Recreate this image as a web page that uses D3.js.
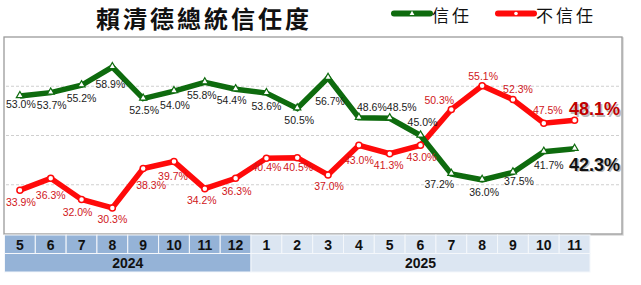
<!DOCTYPE html>
<html>
<head>
<meta charset="utf-8">
<script src="https://cdn.jsdelivr.net/npm/d3@7/dist/d3.min.js"></script>
<style>
body { margin:0; background:#fff; }
svg { display:block; }
</style>
</head>
<body>
<script>
// data
var months = ["5","6","7","8","9","10","11","12","1","2","3","4","5","6","7","8","9","10","11"];
var years = [{label:"2024", count:8}, {label:"2025", count:11}];
var trust = [53.0,53.7,55.2,58.9,52.5,54.0,55.8,54.4,53.6,50.5,56.7,48.6,48.5,45.0,37.2,36.0,37.5,41.7,42.3];
var distrust = [33.9,36.3,32.0,30.3,38.3,39.7,34.2,36.3,40.4,40.5,37.0,43.0,41.3,43.0,50.3,55.1,52.3,47.5,48.1];
var gridValues = [35,45,55];

// label placement (dx,dy from point), picked by eye
var trustOffsets = [[1,8],[1,12],[0,13],[-2,17],[1,11],[1,14],[-3,13],[-4,11],[0,13],[2,12],
    [2,23],[13,-11],[12,-11],[2,-14],[-12,10],[2,12],[6,9],[5,13],[20,16]];
var distrustOffsets = [[1,12],[0,17],[-4,12],[0,11],[8,17],[-1,14],[-3,11],[1,13],[0,9],[1,9],
    [1,11],[0,15],[-1,11],[1,12],[-12,-9],[1,-10],[5,-11],[4,-13],[20,-11]];

var totalWidth = 641, totalHeight = 285;
var frame = {left:4, top:37, right:622, bottom:234};

var svg = d3.select("body").append("svg")
    .attr("width", totalWidth)
    .attr("height", totalHeight);

var xScale = d3.scaleBand().domain(d3.range(months.length)).range([4.5, 590]).padding(0);
var yScale = d3.scaleLinear().domain([25,65]).range([frame.bottom, frame.top]);
function cx(i){ return xScale(i) + xScale.bandwidth()/2; }

// title
svg.append("text")
    .attr("x", 204).attr("y", 17)
    .attr("text-anchor","middle")
    .attr("dominant-baseline","central")
    .style("font-family","'Noto Sans CJK TC'")
    .style("font-weight","bold")
    .style("font-size","24px")
    .style("letter-spacing","3px")
    .attr("fill","#111")
    .text("賴清德總統信任度");

var green = "#0e6b0e", red = "#ff0a0a";

// legend
function legendItem(x, color, marker, label){
    var g = svg.append("g");
    g.append("line").attr("x1",x).attr("x2",x+36).attr("y1",13.5).attr("y2",13.5)
        .attr("stroke",color).attr("stroke-width",6).attr("stroke-linecap","round");
    if (marker == "tri") {
        g.append("path").attr("d", d3.symbol(d3.symbolTriangle, 10)())
            .attr("transform","translate("+(x+18)+",13.5)").attr("fill","#fff");
    } else {
        g.append("circle").attr("cx",x+18).attr("cy",13.5).attr("r",1.8).attr("fill","#fff");
    }
    g.append("text").attr("x",x+38).attr("y",14)
        .attr("dominant-baseline","central")
        .style("font-family","'Noto Sans CJK TC'")
        .style("font-size","17px")
        .style("letter-spacing","3px")
        .attr("fill","#111").text(label);
}
legendItem(394, green, "tri", "信任");
legendItem(498, red, "dot", "不信任");

// frame
svg.append("rect")
    .attr("x", frame.left+1).attr("y", frame.top+1)
    .attr("width", frame.right-frame.left).attr("height", frame.bottom-frame.top)
    .attr("fill","none").attr("stroke","#d8d8d8").attr("stroke-width",1.5);
svg.append("rect")
    .attr("x", frame.left).attr("y", frame.top)
    .attr("width", frame.right-frame.left).attr("height", frame.bottom-frame.top)
    .attr("fill","#fff").attr("stroke","#9a9a9a").attr("stroke-width",1.3);

// grid
svg.selectAll(".grid").data(gridValues).enter().append("line")
    .attr("x1", frame.left+2).attr("x2", frame.right-2)
    .attr("y1", function(d){return yScale(d);}).attr("y2", function(d){return yScale(d);})
    .attr("stroke","#cfcfcf").attr("stroke-width",1).attr("stroke-dasharray","3,2");

var line = d3.line().x(function(d,i){return cx(i);}).y(function(d){return yScale(d);});

// lines
svg.append("path").datum(distrust).attr("d", line)
    .attr("fill","none").attr("stroke",red).attr("stroke-width",5.5).attr("stroke-linejoin","miter");
svg.append("path").datum(trust).attr("d", line)
    .attr("fill","none").attr("stroke",green).attr("stroke-width",5.5).attr("stroke-linejoin","miter");

// markers
svg.selectAll(".dot").data(distrust).enter().append("circle")
    .attr("cx", function(d,i){return cx(i);})
    .attr("cy", function(d){return yScale(d);})
    .attr("r", 3).attr("fill","#fff").attr("stroke",red).attr("stroke-width",1.5);
svg.selectAll(".tri").data(trust).enter().append("path")
    .attr("d", d3.symbol(d3.symbolTriangle, 22)())
    .attr("transform", function(d,i){return "translate("+cx(i)+","+(yScale(d)-0.5)+")";})
    .attr("fill","#fff").attr("stroke",green).attr("stroke-width",1.2);

// labels
function addLabels(values, offsets, color, bigColor){
    var last = values.length - 1;
    values.forEach(function(v,i){
        var x = cx(i) + offsets[i][0], y = yScale(v) + offsets[i][1];
        var big = (i == last);
        if (big) {
            svg.append("text").attr("x",x+1.5).attr("y",y+1.5)
                .attr("text-anchor","middle").attr("dominant-baseline","central")
                .style("font-family","'Liberation Sans', Arial, sans-serif")
                .style("font-weight","bold").style("font-size","18px")
                .attr("fill","#bbb").text(v.toFixed(1)+"%");
        }
        svg.append("text").attr("x",x).attr("y",y)
            .attr("text-anchor","middle").attr("dominant-baseline","central")
            .style("font-family","'Liberation Sans', Arial, sans-serif")
            .style("font-weight", big ? "bold" : "normal")
            .style("font-size", big ? "18px" : "10.5px")
            .attr("fill", big ? bigColor : color)
            .text(v.toFixed(1)+"%");
    });
}
addLabels(trust, trustOffsets, "#1a1a1a", "#111");
addLabels(distrust, distrustOffsets, "#d0161a", "#c00000");

// month / year table
var rowTop = 235, rowMid = 253.5, rowBottom = 272;
var dark = "#95b3d7", light = "#dce6f2";
function isFirstYear(i){ return i < years[0].count; }

svg.selectAll(".mcell").data(months).enter().append("rect")
    .attr("x", function(d,i){return xScale(i);})
    .attr("y", rowTop)
    .attr("width", xScale.bandwidth()).attr("height", rowMid-rowTop)
    .attr("fill", function(d,i){return isFirstYear(i) ? dark : light;})
    .attr("stroke","#f4f7fb").attr("stroke-width",1);
svg.selectAll(".mtext").data(months).enter().append("text")
    .attr("x", function(d,i){return cx(i);})
    .attr("y", (rowTop+rowMid)/2+0.5)
    .attr("text-anchor","middle").attr("dominant-baseline","central")
    .style("font-family","'Liberation Sans', Arial, sans-serif")
    .style("font-weight","bold").style("font-size","14px")
    .attr("fill","#111").text(function(d){return d;});

var start = 0;
years.forEach(function(y){
    var x0 = xScale(start), x1 = xScale(start + y.count - 1) + xScale.bandwidth();
    svg.append("rect").attr("x",x0).attr("y",rowMid)
        .attr("width",x1-x0).attr("height",rowBottom-rowMid)
        .attr("fill", start == 0 ? dark : light)
        .attr("stroke","#f4f7fb").attr("stroke-width",1);
    svg.append("text").attr("x",(x0+x1)/2).attr("y",(rowMid+rowBottom)/2+0.5)
        .attr("text-anchor","middle").attr("dominant-baseline","central")
        .style("font-family","'Liberation Sans', Arial, sans-serif")
        .style("font-weight","bold").style("font-size","14px")
        .attr("fill","#111").text(y.label);
    start += y.count;
});
</script>
</body>
</html>
